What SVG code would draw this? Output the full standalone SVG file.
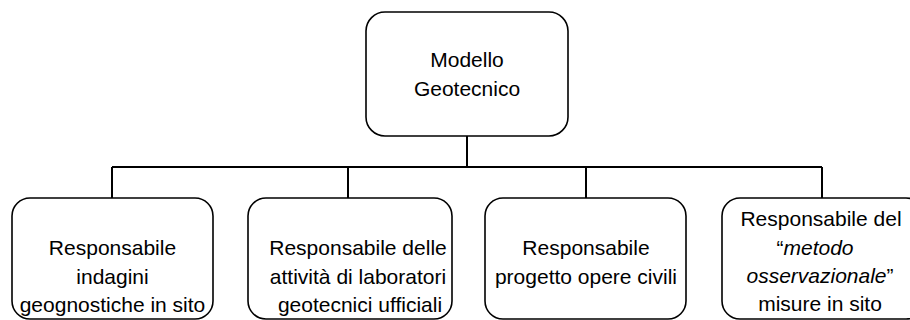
<svg xmlns="http://www.w3.org/2000/svg" width="910" height="320" viewBox="0 0 910 320">
<style>
.box{fill:#fff;stroke:#000;stroke-width:1.6}
.ln{fill:none;stroke:#000;stroke-width:2}
text{font-family:"Liberation Sans",Arial,sans-serif;font-size:21px;fill:#000;text-anchor:middle}
.it{font-style:italic}
</style>
<rect width="910" height="320" fill="#fff"/>
<g id="connectors">
<path class="ln" d="M467 136V167M112 167H822M112 167V198M348 167V198M586 167V198M822 167V198"/>
</g>
<g id="n0">
<rect class="box" x="366" y="12" width="202" height="124" rx="19"/>
<text x="467" y="67">Modello</text>
<text x="467" y="96">Geotecnico</text>
</g>
<g id="n1">
<rect class="box" x="12" y="198" width="201" height="121" rx="18"/>
<text x="112.5" y="255">Responsabile</text>
<text x="112.5" y="284">indagini</text>
<text x="112.5" y="312">geognostiche in sito</text>
</g>
<g id="n2">
<rect class="box" x="248" y="198" width="204" height="121" rx="18"/>
<text x="358" y="255">Responsabile delle</text>
<text x="358" y="284">attività di laboratori</text>
<text x="360" y="312">geotecnici ufficiali</text>
</g>
<g id="n3">
<rect class="box" x="485" y="198" width="201" height="121" rx="18"/>
<text x="586" y="255">Responsabile</text>
<text x="586" y="284">progetto opere civili</text>
</g>
<g id="n4">
<rect class="box" x="722" y="198" width="202" height="121" rx="18"/>
<text x="821" y="226">Responsabile del</text>
<text x="815" y="255">“<tspan class="it">metodo</tspan></text>
<text x="820" y="283"><tspan class="it">osservazionale</tspan>”</text>
<text x="820" y="311">misure in sito</text>
</g>
</svg>
